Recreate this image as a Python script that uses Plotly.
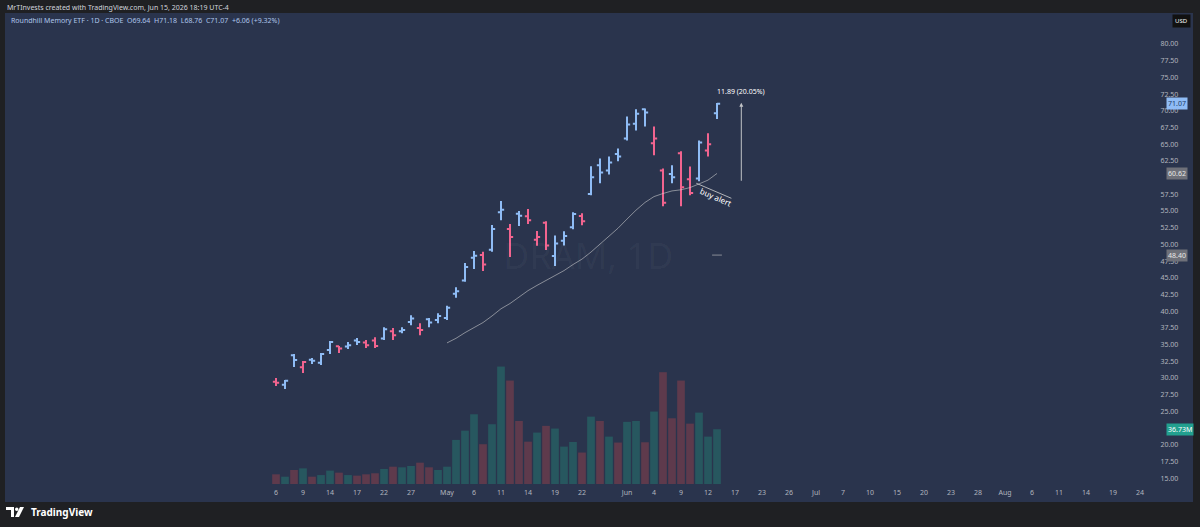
import numpy as np
import pandas as pd
import plotly.graph_objects as go

W, H = 1200, 527
L, R, T, B = 5, 48, 13, 43

# DRAM daily bars, Apr 6 - Jun 15 2026
opens = [29.45, 29.0, 33.4, 31.6, 32.75, 32.3, 34.2, 34.75, 34.7, 35.6,
         35.3, 35.6, 35.9, 37.0, 37.0, 38.4, 37.5, 38.8, 38.7, 39.0,
         42.6, 44.6, 48.0, 48.4, 49.2, 54.8, 52.3, 54.6, 54.2, 50.7,
         53.25, 48.25, 50.55, 52.55, 54.25, 57.55, 61.85, 61.05, 63.55, 65.85,
         68.05, 70.25, 65.15, 61.05, 60.55, 63.65, 59.75, 59.85, 64.05, 69.64]
highs = [30.0, 29.7, 33.6, 32.55, 33.0, 33.75, 35.55, 34.8, 35.4, 36.0,
         35.7, 36.1, 37.6, 37.5, 37.6, 39.4, 38.2, 39.0, 39.7, 40.8,
         43.6, 47.2, 49.0, 48.9, 52.9, 56.5, 53.05, 55.0, 55.3, 52.0,
         53.45, 51.35, 51.95, 54.8, 54.65, 61.7, 62.85, 63.15, 64.35, 69.15,
         70.25, 70.35, 67.65, 61.35, 61.85, 63.95, 61.65, 65.55, 66.65, 71.18]
lows = [28.8, 28.35, 31.65, 30.75, 32.1, 31.95, 33.6, 33.75, 34.35, 34.95,
        34.5, 34.5, 35.7, 35.7, 36.7, 37.9, 36.4, 37.6, 38.2, 38.7,
        42.0, 44.4, 46.3, 46.0, 48.9, 53.6, 48.1, 52.75, 53.05, 49.8,
        49.15, 46.75, 49.85, 52.25, 52.85, 57.35, 59.15, 60.45, 62.45, 65.55,
        67.05, 67.65, 63.35, 55.7, 59.15, 55.7, 57.35, 59.45, 63.15, 68.76]
closes = [29.3, 29.6, 32.7, 32.4, 32.6, 33.6, 35.4, 34.4, 34.9, 35.4,
          34.9, 34.8, 37.3, 36.4, 37.2, 38.9, 37.2, 38.3, 39.3, 40.5,
          43.0, 46.6, 48.3, 47.0, 52.3, 55.2, 51.1, 54.3, 53.6, 51.1,
          49.85, 50.15, 51.25, 54.55, 53.45, 60.05, 60.75, 62.25, 63.15, 67.95,
          69.55, 69.75, 65.85, 56.25, 60.05, 58.55, 57.69, 65.25, 65.01, 71.07]
volume_m = [6.5, 4.9, 9.4, 10.5, 4.9, 6.0, 9.0, 7.6, 6.0, 5.6,
            6.5, 7.2, 10.1, 11.6, 11.2, 12.1, 14.3, 11.2, 9.4, 11.6,
            29.6, 35.8, 46.8, 26.7, 40.1, 78.8, 69.4, 42.3, 28.4, 34.5,
            39.0, 37.2, 25.1, 28.2, 21.1, 45.2, 42.3, 31.8, 27.8, 41.7,
            42.3, 28.0, 48.6, 75.0, 44.1, 69.4, 40.5, 47.9, 31.8, 36.73]
prev_close = 29.9

tick_pos = [0, 3, 6, 9, 12, 15, 19, 22, 25, 28, 31, 34, 39, 42, 45, 48,
            51, 54, 57, 60, 63, 66, 69, 72, 75, 78, 81, 84, 87, 90, 93, 96]
tick_text = ["6", "9", "14", "17", "22", "27", "May", "6", "11", "14", "19", "22",
             "Jun", "4", "9", "12", "17", "23", "26", "Jul", "7", "10", "15", "20",
             "23", "28", "Aug", "6", "11", "14", "19", "24"]
price_ticks = [15 + 2.5 * k for k in range(27)]

measure_start = 59.30
measure_end = 71.19

BG = "#1f2023"
PANE = "#2a344d"
BLUE = "#8fbcf5"
PINK = "#f2648f"
VOL_UP = "#27575f"
VOL_DN = "#5e3a4c"
TXT = "#b2b5be"
FONT = "Noto Sans"

pw = W - L - R
ph = H - T - B
y_lo = 80 - (H - B - 44) / 6.68
y_hi = 80 + (44 - T) / 6.68
vol_top = 316


def px_x(px):
    return (px - L) / pw


def px_y(py):
    return (H - B - py) / ph


idx = list(range(len(closes)))
prior = [prev_close] + closes[:-1]
up = [c >= p for c, p in zip(closes, prior)]
sma20 = pd.Series(closes).rolling(20).mean()
sma50 = pd.Series(closes).rolling(50).mean()

# price-axis labels hidden under the value boxes
box_prices = [closes[-1], sma20.iloc[-1], sma50.iloc[-1],
              y_lo + volume_m[-1] / vol_top * (y_hi - y_lo)]
price_text = ["" if min(abs(t - b) for b in box_prices) < 0.8 else "%.2f" % t
              for t in price_ticks]

fig = go.Figure()

fig.add_trace(go.Bar(
    x=idx, y=volume_m, yaxis="y2", width=0.85,
    marker_color=[VOL_UP if c >= o else VOL_DN for o, c in zip(opens, closes)],
    marker_line_width=0))

fig.add_trace(go.Scatter(x=idx, y=sma20, mode="lines",
                         line=dict(color="rgba(215,215,215,0.55)", width=1)))
fig.add_trace(go.Scatter(x=[idx[-1]], y=[sma50.iloc[-1]], mode="markers",
                         marker=dict(symbol="line-ew", size=7,
                                     line=dict(color="rgba(200,200,200,0.6)", width=1))))

for flag, col in [(True, BLUE), (False, PINK)]:
    sel = [i for i in idx if up[i] == flag]
    fig.add_trace(go.Ohlc(
        x=sel, open=[opens[i] for i in sel], high=[highs[i] for i in sel],
        low=[lows[i] for i in sel], close=[closes[i] for i in sel],
        increasing_line_color=col, decreasing_line_color=col,
        line_width=2, tickwidth=0.35))

# pane background
fig.add_shape(type="rect", xref="paper", yref="paper", layer="below",
              x0=px_x(5), x1=px_x(1193), y0=px_y(502), y1=px_y(13),
              fillcolor=PANE, line_width=0)

# buy alert line
fig.add_shape(type="line", x0=46.7, y0=59.15, x1=50.6, y1=56.9,
              line=dict(color="rgba(210,210,210,0.8)", width=1))

# footer logo
fig.add_shape(type="path", xref="paper", yref="paper",
              path="M %f %f L %f %f L %f %f L %f %f L %f %f L %f %f Z" % (
                  px_x(6), px_y(507), px_x(14), px_y(507), px_x(14), px_y(517),
                  px_x(11), px_y(517), px_x(11), px_y(510), px_x(6), px_y(510)),
              fillcolor="#ffffff", line_width=0)
fig.add_shape(type="circle", xref="paper", yref="paper",
              x0=px_x(15), x1=px_x(18.5), y0=px_y(511), y1=px_y(507.5),
              fillcolor="#ffffff", line_width=0)
fig.add_shape(type="path", xref="paper", yref="paper",
              path="M %f %f L %f %f L %f %f L %f %f Z" % (
                  px_x(20), px_y(507), px_x(24), px_y(507), px_x(19), px_y(517),
                  px_x(15), px_y(517)),
              fillcolor="#ffffff", line_width=0)

ann = []
ann.append(dict(xref="paper", yref="paper", x=px_x(5), y=px_y(7), xanchor="left",
                yanchor="middle", showarrow=False,
                text="MrTInvests created with TradingView.com, Jun 15, 2026 18:19 UTC-4",
                font=dict(size=7, color="#d1d4dc", family=FONT)))
chg = closes[-1] - closes[-2]
ann.append(dict(xref="paper", yref="paper", x=px_x(9), y=px_y(20), xanchor="left",
                yanchor="middle", showarrow=False,
                text="Roundhill Memory ETF · 1D · CBOE  O%.2f  H%.2f  L%.2f  C%.2f  %+.2f (%+.2f%%)"
                     % (opens[-1], highs[-1], lows[-1], closes[-1], chg, chg / closes[-2] * 100),
                font=dict(size=7, color="#aec5ea", family=FONT)))
ann.append(dict(xref="paper", yref="paper", x=px_x(588), y=px_y(255), showarrow=False,
                xanchor="center", yanchor="middle",
                text="DRAM, 1D", font=dict(size=36, color="rgba(255,255,255,0.04)", family=FONT)))
# measure arrow
mx = 51.7
ann.append(dict(x=mx, y=measure_end, ax=mx, ay=measure_start, axref="x", ayref="y",
                showarrow=True, arrowhead=2, arrowsize=0.8, arrowwidth=1,
                arrowcolor="rgba(220,220,220,0.85)", text=""))
ann.append(dict(x=mx, y=measure_end, yshift=11, showarrow=False,
                xanchor="center", yanchor="middle",
                text="%.2f (%.2f%%)" % (measure_end - measure_start,
                                        (measure_end - measure_start) / measure_start * 100),
                font=dict(size=7, color="#ffffff", family=FONT)))
ann.append(dict(x=48.8, y=57.1, showarrow=False, text="buy alert", textangle=24,
                xanchor="center", yanchor="middle",
                font=dict(size=8, color="#ffffff", family=FONT)))
# axis labels
ann.append(dict(xref="paper", yref="paper", x=px_x(1172), y=px_y(21), xanchor="left",
                yanchor="middle", showarrow=False, text="USD", bgcolor="#111111", borderpad=2,
                font=dict(size=6, color="#ffffff", family=FONT)))
ann.append(dict(xref="paper", y=closes[-1], x=px_x(1166), xanchor="left", yanchor="middle",
                showarrow=False, text="%.2f" % closes[-1], bgcolor=BLUE, borderpad=1,
                font=dict(size=7, color="#1c3b66", family=FONT)))
for v in [sma20.iloc[-1], sma50.iloc[-1]]:
    ann.append(dict(xref="paper", y=v, x=px_x(1166), xanchor="left", yanchor="middle",
                    showarrow=False, text="%.2f" % v, bgcolor="#6e7079", borderpad=1,
                    font=dict(size=7, color="#e8e8e8", family=FONT)))
ann.append(dict(xref="paper", yref="y2", y=volume_m[-1], x=px_x(1166), xanchor="left",
                yanchor="middle", showarrow=False, text="%.2fM" % volume_m[-1],
                bgcolor="#22a08f", borderpad=1,
                font=dict(size=7, color="#ffffff", family=FONT)))
ann.append(dict(xref="paper", yref="paper", x=px_x(29), y=px_y(512), xanchor="left",
                yanchor="middle", showarrow=False, text="<b>TradingView</b>",
                font=dict(size=10, color="#ffffff", family=FONT)))

fig.update_layout(
    width=W, height=H, margin=dict(l=L, r=R, t=T, b=B),
    paper_bgcolor=BG, plot_bgcolor=PANE, showlegend=False,
    annotations=ann,
    xaxis=dict(range=[(L - 276) / 9, (W - R - 276) / 9], tickvals=tick_pos, ticktext=tick_text,
               showgrid=False, zeroline=False, showline=False, ticks="",
               ticklabelstandoff=3, rangeslider=dict(visible=False),
               tickfont=dict(size=7, color=TXT, family=FONT)),
    yaxis=dict(side="right", range=[y_lo, y_hi],
               tickvals=price_ticks, ticktext=price_text, showgrid=False, zeroline=False,
               ticks="outside", ticklen=6, tickcolor="rgba(0,0,0,0)",
               tickfont=dict(size=7, color=TXT, family=FONT)),
    yaxis2=dict(overlaying="y", range=[0, vol_top], visible=False),
)

fig.write_html("out.html", config={"displayModeBar": False},
               post_script="document.body.style.margin='0';")
